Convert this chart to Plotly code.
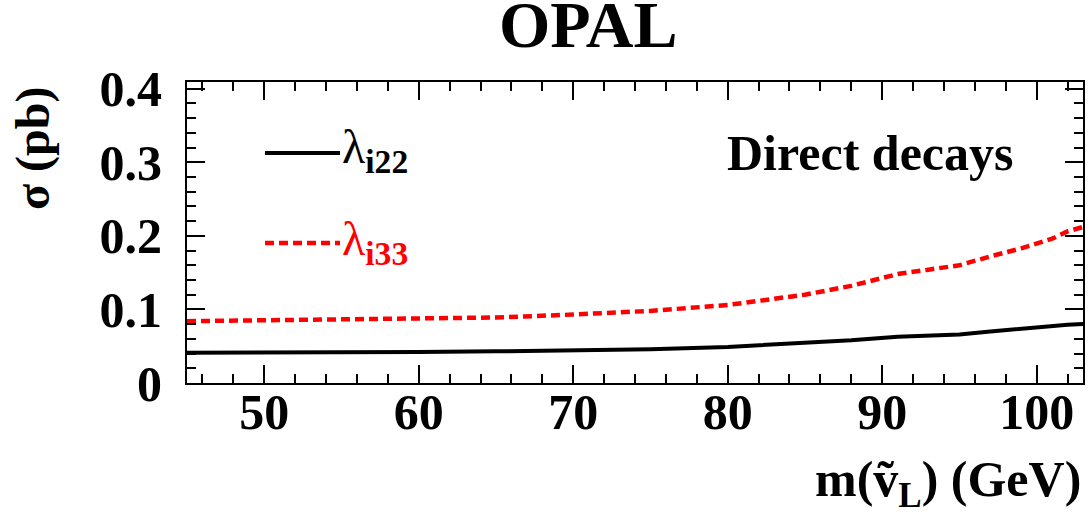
import plotly.graph_objects as go

# Data
mass = [45, 50, 55, 60, 65, 70, 75, 80, 85, 88, 91, 93, 95, 97, 99, 101, 102, 103]
sigma_i33 = [0.084, 0.085, 0.086, 0.087, 0.089, 0.093, 0.098, 0.106, 0.120, 0.132,
             0.148, 0.154, 0.160, 0.172, 0.183, 0.196, 0.206, 0.212]
sigma_i22 = [0.041, 0.041, 0.041, 0.042, 0.043, 0.044, 0.046, 0.049, 0.054, 0.058,
             0.063, 0.064, 0.066, 0.070, 0.074, 0.077, 0.079, 0.080]

x_ticks = [50, 60, 70, 80, 90, 100]
y_ticks = [0, 0.1, 0.2, 0.3, 0.4]
y_tick_labels = ["0", "0.1", "0.2", "0.3", "0.4"]

FONT = "Liberation Serif"

fig = go.Figure()
fig.add_trace(go.Scatter(x=mass, y=sigma_i22, mode="lines",
                         line=dict(color="black", width=4), showlegend=False))
fig.add_trace(go.Scatter(x=mass, y=sigma_i33, mode="lines",
                         line=dict(color="#ff0000", width=4.5, dash="9px,5px"),
                         showlegend=False))

W, H = 1088, 520
L, R, T, B = 187, 5, 82, 137
pw, ph = W - L - R, H - T - B


def px(x):
    return (x - L) / pw


def py(y):
    return (H - B - y) / ph


axis_common = dict(
    showgrid=False, zeroline=False, showline=True, linecolor="black", linewidth=2,
    mirror="ticks", ticks="inside", ticklen=18, tickwidth=2, tickcolor="black",
    tickfont=dict(family=FONT, size=50, color="black", weight="bold"),
    automargin=False,
)

fig.update_xaxes(range=[45, 103], tickmode="array", tickvals=x_ticks,
                 ticktext=[str(v) for v in x_ticks],
                 minor=dict(ticks="inside", ticklen=9, dtick=2, tick0=0,
                            tickwidth=2, tickcolor="black"),
                 ticklabelstandoff=-16, **axis_common)
fig.update_yaxes(range=[0, 0.409], tickmode="array", tickvals=y_ticks,
                 ticktext=y_tick_labels,
                 minor=dict(ticks="inside", ticklen=9, dtick=0.02, tick0=0,
                            tickwidth=2, tickcolor="black"),
                 ticklabelstandoff=13, **axis_common)

bold = dict(family=FONT, color="black", weight="bold")

annotations = [
    dict(text="OPAL", x=px(588), y=py(25), xref="paper", yref="paper",
         xanchor="center", yanchor="middle", showarrow=False,
         font=dict(size=66, **bold)),
    dict(text="Direct decays", x=px(1015), y=py(153), xref="paper", yref="paper",
         xanchor="right", yanchor="middle", showarrow=False,
         font=dict(size=50, **bold)),
    dict(text="λ<sub><b>i22</b></sub>", x=px(340), y=py(150), xref="paper", yref="paper",
         xanchor="left", yanchor="middle", showarrow=False,
         font=dict(family=FONT, size=48, color="black")),
    dict(text="λ<sub><b>i33</b></sub>", x=px(340), y=py(242), xref="paper", yref="paper",
         xanchor="left", yanchor="middle", showarrow=False,
         font=dict(family=FONT, size=48, color="#ff0000")),
    dict(text="m(ṽ<sub>L</sub>) (GeV)", x=px(1083), y=py(483), xref="paper",
         yref="paper", xanchor="right", yanchor="middle", showarrow=False,
         font=dict(size=50, **bold)),
    dict(text="σ (pb)", x=px(33), y=py(149), xref="paper", yref="paper",
         xanchor="center", yanchor="middle", textangle=-90, showarrow=False,
         font=dict(size=48, **bold)),
]

shapes = [
    dict(type="line", xref="paper", yref="paper", x0=px(265), x1=px(340),
         y0=py(153), y1=py(153), line=dict(color="black", width=4)),
    dict(type="line", xref="paper", yref="paper", x0=px(265), x1=px(340),
         y0=py(243), y1=py(243), line=dict(color="#ff0000", width=4.5, dash="9px,5px")),
]

fig.update_layout(
    width=W, height=H, margin=dict(l=L, r=R, t=T, b=B, pad=0, autoexpand=False),
    paper_bgcolor="white", plot_bgcolor="white",
    annotations=annotations, shapes=shapes, showlegend=False,
)

# Remove the default 8px page margin so the figure fills the window exactly.
fig.write_html("out.html",
               config={"displayModeBar": False},
               post_script="document.body.style.margin='0px';"
                           "document.body.style.overflow='hidden';")
